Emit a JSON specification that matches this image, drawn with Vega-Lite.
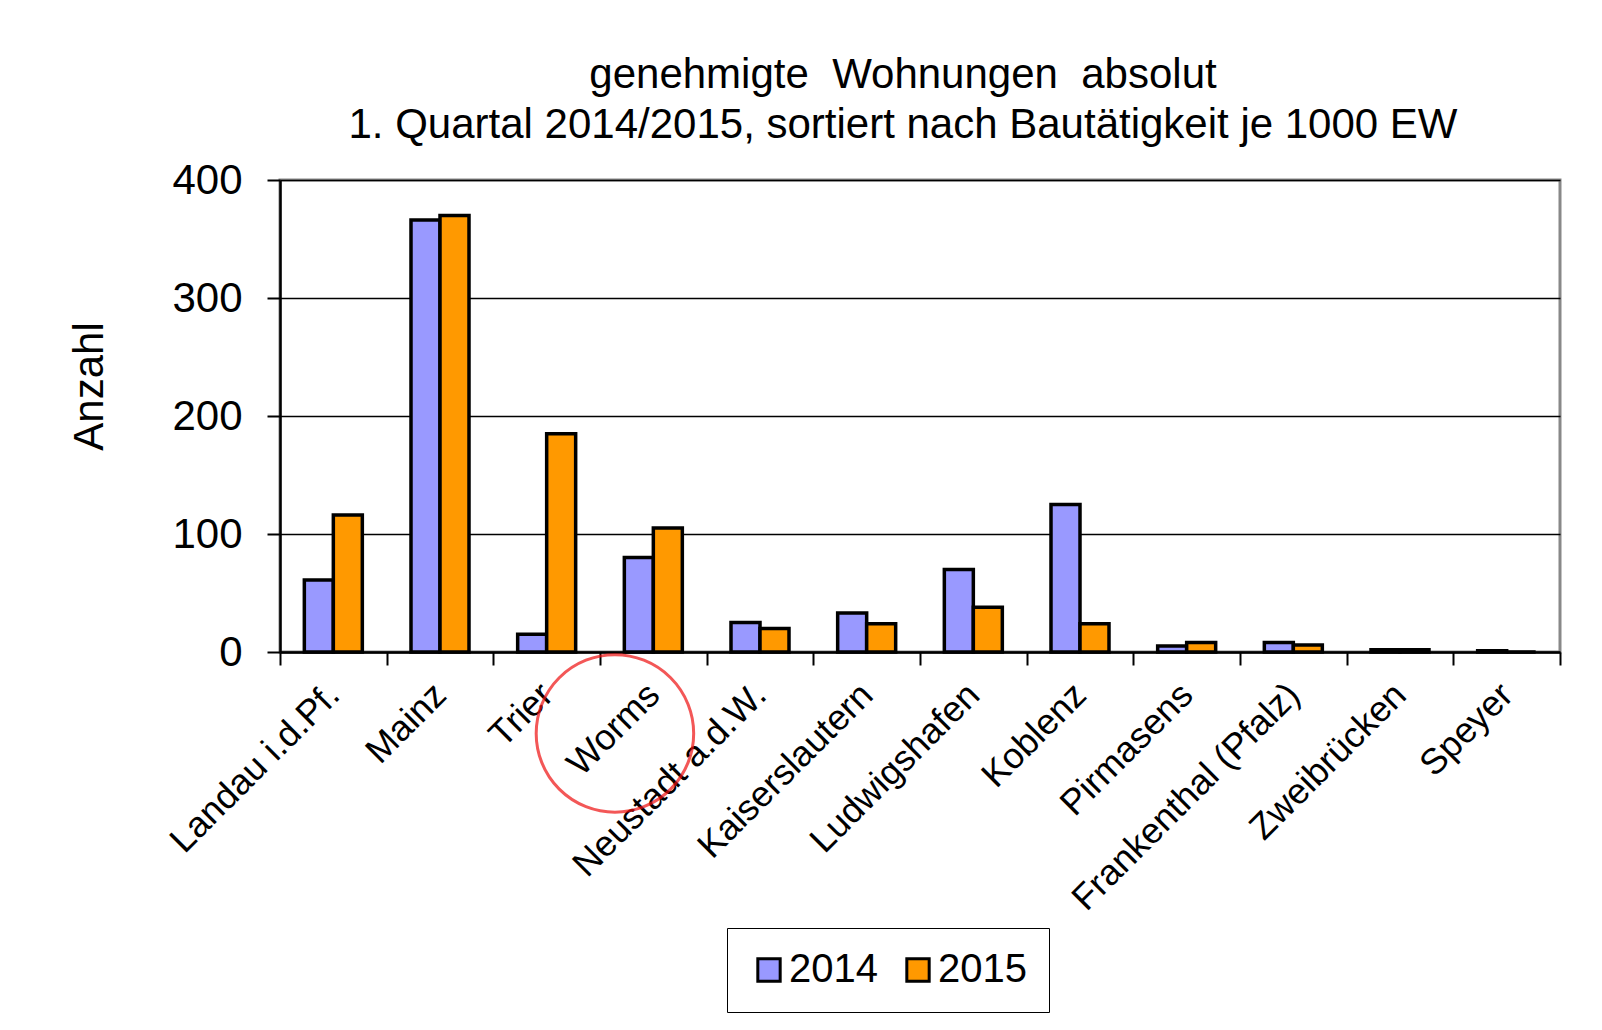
{
  "$schema": "https://vega.github.io/schema/vega-lite/v6.json",
  "autosize": {"type": "none"},
  "padding": {"left": 280, "top": 180, "right": 42, "bottom": 378},
  "width": 1280,
  "height": 472,
  "background": "white",
  "title": {
    "text": ["genehmigte\u00a0 Wohnungen\u00a0 absolut", "1. Quartal 2014/2015, sortiert nach Bautätigkeit je 1000 EW"],
    "fontSize": 42,
    "fontWeight": "normal",
    "lineHeight": 50,
    "anchor": "middle",
    "dx": -17,
    "offset": 12,
    "color": "black"
  },
  "config": {
    "font": "Liberation Sans",
    "view": {"stroke": "#888888", "strokeWidth": 3},
    "axis": {"labelColor": "black", "titleColor": "black", "labelFont": "Liberation Sans", "titleFont": "Liberation Sans"}
  },
  "datasets": {
    "bars": [
      {"city": "Landau i.d.Pf.", "year": "2014", "value": 61},
      {"city": "Landau i.d.Pf.", "year": "2015", "value": 116},
      {"city": "Mainz", "year": "2014", "value": 366},
      {"city": "Mainz", "year": "2015", "value": 370},
      {"city": "Trier", "year": "2014", "value": 15},
      {"city": "Trier", "year": "2015", "value": 185},
      {"city": "Worms", "year": "2014", "value": 80},
      {"city": "Worms", "year": "2015", "value": 105},
      {"city": "Neustadt a.d.W.", "year": "2014", "value": 25},
      {"city": "Neustadt a.d.W.", "year": "2015", "value": 20},
      {"city": "Kaiserslautern", "year": "2014", "value": 33},
      {"city": "Kaiserslautern", "year": "2015", "value": 24},
      {"city": "Ludwigshafen", "year": "2014", "value": 70},
      {"city": "Ludwigshafen", "year": "2015", "value": 38},
      {"city": "Koblenz", "year": "2014", "value": 125},
      {"city": "Koblenz", "year": "2015", "value": 24},
      {"city": "Pirmasens", "year": "2014", "value": 5},
      {"city": "Pirmasens", "year": "2015", "value": 8},
      {"city": "Frankenthal (Pfalz)", "year": "2014", "value": 8},
      {"city": "Frankenthal (Pfalz)", "year": "2015", "value": 6},
      {"city": "Zweibrücken", "year": "2014", "value": 2},
      {"city": "Zweibrücken", "year": "2015", "value": 2},
      {"city": "Speyer", "year": "2014", "value": 1},
      {"city": "Speyer", "year": "2015", "value": 0}
    ],
    "marker": [
      {"city": "Worms", "value": -69}
    ]
  },
  "layer": [
    {
      "data": {"name": "bars"},
      "mark": {"type": "bar", "stroke": "black", "strokeWidth": 3.5},
      "encoding": {
        "x": {
          "field": "city",
          "type": "nominal",
          "sort": null,
          "scale": {"paddingInner": 0, "paddingOuter": 0},
          "axis": {
            "title": null,
            "labelAngle": -45,
            "labelAlign": "right",
            "labelBaseline": "middle",
            "labelFontSize": 36,
            "labelPadding": 24,
            "labelLimit": 0,
            "tickBand": "extent",
            "tickSize": 13,
            "tickWidth": 2,
            "tickColor": "black",
            "domainColor": "black",
            "domainWidth": 2.5,
            "grid": false
          }
        },
        "xOffset": {
          "field": "year",
          "type": "nominal",
          "scale": {"paddingInner": 0, "paddingOuter": 0.839}
        },
        "y": {
          "field": "value",
          "type": "quantitative",
          "scale": {"domain": [0, 400], "nice": false},
          "axis": {
            "title": "Anzahl",
            "titleFontSize": 42,
            "titleFontWeight": "normal",
            "titlePadding": 60,
            "titleY": 206,
            "labelFontSize": 42,
            "labelPadding": 25,
            "values": [0, 100, 200, 300, 400],
            "tickSize": 13,
            "tickWidth": 2,
            "tickColor": "black",
            "domainColor": "black",
            "domainWidth": 2.5,
            "gridColor": "black",
            "gridWidth": 1.5,
            "gridOpacity": 1
          }
        },
        "fill": {
          "field": "year",
          "type": "nominal",
          "scale": {"domain": ["2014", "2015"], "range": ["#9999FF", "#FF9900"]},
          "legend": {
            "title": null,
            "orient": "none",
            "legendX": 447,
            "legendY": 748,
            "direction": "horizontal",
            "strokeColor": "black",
            "padding": 22,
            "symbolType": "square",
            "symbolSize": 500,
            "symbolStrokeColor": "black",
            "symbolStrokeWidth": 3,
            "labelFontSize": 40,
            "labelColor": "black",
            "labelOffset": 0,
            "columnPadding": 20
          }
        }
      }
    },
    {
      "data": {"name": "marker"},
      "mark": {"type": "point", "shape": "circle", "filled": false, "stroke": "#EE1111", "strokeWidth": 3, "size": 24800, "clip": false},
      "encoding": {
        "x": {"field": "city", "type": "nominal", "sort": null, "bandPosition": 0.14},
        "y": {"field": "value", "type": "quantitative"}
      }
    }
  ]
}
